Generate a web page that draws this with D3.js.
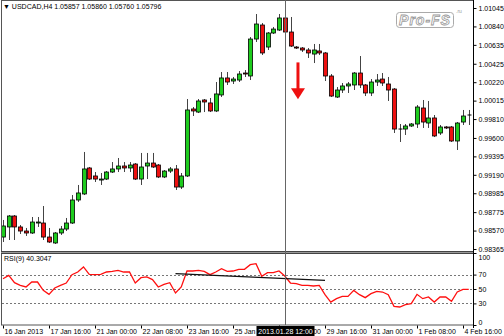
<!DOCTYPE html>
<html>
<head>
<meta charset="utf-8">
<script src="https://cdn.jsdelivr.net/npm/d3@7/dist/d3.min.js"></script>
<style>
  body { margin: 0; background: #fff; }
  svg { display: block; font-family: "Liberation Sans", Arial, sans-serif; }
  .axis text { font-size: 7px; fill: #000; }
  .axis line { stroke: #000; }
</style>
</head>
<body>
<div id="main"></div>
<script>
// USDCAD H4 candles, 16 Jan 08:00 .. 4 Feb 20:00
const open  = [0.98498,0.98610,0.98732,0.98610,0.98565,0.98543,0.98654,0.98654,0.98498,0.98432,
               0.98543,0.98587,0.98654,0.98910,0.98977,0.99266,0.99177,0.99138,0.99143,0.99221,
               0.99255,0.99288,0.99266,0.99310,0.99143,0.99288,0.99321,0.99299,0.99166,0.99232,
               0.99255,0.99054,0.99177,0.99922,0.99888,1.00022,0.99989,0.99900,1.00078,1.00267,
               1.00233,1.00244,1.00322,1.00289,1.00700,1.00856,1.00611,1.00767,1.00800,1.00934,
               1.00778,1.00611,1.00600,1.00578,1.00533,1.00567,1.00545,1.00289,1.00055,1.00133,
               1.00178,1.00189,1.00322,1.00189,1.00100,1.00222,1.00255,1.00200,1.00144,0.99699,
               0.99699,0.99733,0.99755,0.99933,0.99766,0.99822,0.99655,0.99722,0.99722,0.99566,
               0.99777,0.99855];
const high  = [0.98688,0.98743,0.98743,0.98632,0.98599,0.98721,0.98721,0.98843,0.98599,0.98554,
               0.98621,0.98710,0.98965,0.99077,0.99444,0.99277,0.99221,0.99210,0.99232,0.99332,
               0.99377,0.99332,0.99332,0.99321,0.99433,0.99433,0.99433,0.99310,0.99243,0.99277,
               0.99299,0.99210,1.00033,0.99944,1.00033,1.00033,1.00044,1.00222,1.00333,1.00333,
               1.00278,1.00344,1.00355,1.00722,1.00978,1.00878,1.00778,1.00834,1.00978,1.00945,
               1.00945,1.00622,1.00611,1.00600,1.00645,1.00645,1.00556,1.00311,1.00166,1.00211,
               1.00222,1.00333,1.00511,1.00200,1.00255,1.00311,1.00322,1.00278,1.00155,0.99755,
               0.99755,0.99766,0.99966,1.00022,1.00011,0.99855,0.99744,0.99733,0.99733,0.99777,
               0.99911,0.99911];
const low   = [0.98443,0.98465,0.98465,0.98532,0.98510,0.98532,0.98610,0.98465,0.98432,0.98421,
               0.98521,0.98565,0.98643,0.98888,0.98965,0.99132,0.99110,0.99077,0.99132,0.99210,
               0.99221,0.99221,0.99221,0.99132,0.99077,0.99143,0.99266,0.99154,0.99154,0.99210,
               0.99021,0.99032,0.99166,0.99844,0.99877,0.99888,0.99888,0.99888,1.00055,1.00189,
               1.00200,1.00222,1.00278,1.00244,1.00667,1.00522,1.00578,1.00756,1.00789,1.00767,
               1.00611,1.00589,1.00556,1.00489,1.00433,1.00522,1.00233,1.00055,1.00044,1.00100,
               1.00100,1.00133,1.00155,1.00066,1.00066,1.00178,1.00178,1.00011,0.99655,0.99555,
               0.99633,0.99722,0.99711,0.99711,0.99711,0.99610,0.99633,0.99699,0.99555,0.99466,
               0.99744,0.99744];
const close = [0.98621,0.98732,0.98610,0.98565,0.98543,0.98665,0.98665,0.98498,0.98443,0.98543,
               0.98587,0.98654,0.98910,0.98988,0.99255,0.99143,0.99143,0.99143,0.99221,0.99255,
               0.99288,0.99266,0.99299,0.99143,0.99277,0.99321,0.99277,0.99166,0.99232,0.99255,
               0.99054,0.99177,0.99911,0.99900,1.00011,1.00000,0.99900,1.00089,1.00267,1.00222,
               1.00255,1.00311,1.00311,1.00700,1.00867,1.00545,1.00767,1.00811,1.00934,1.00778,
               1.00622,1.00600,1.00578,1.00545,1.00578,1.00545,1.00289,1.00066,1.00133,1.00178,
               1.00200,1.00322,1.00189,1.00100,1.00222,1.00244,1.00211,1.00133,0.99699,0.99699,
               0.99733,0.99755,0.99944,0.99777,0.99822,0.99622,0.99722,0.99711,0.99566,0.99766,
               0.99844,0.99855];

const rsi = [64.3,69.0,58.8,55.1,52.8,59.7,59.7,48.1,42.6,51.4,
             55.1,58.3,69.9,73.6,80.6,70.4,69.9,70.4,73.6,74.5,
             75.9,73.6,73.6,58.3,65.7,66.7,63.0,52.8,56.5,58.8,
             44.4,52.8,75.0,75.0,75.9,74.5,69.9,73.6,78.2,74.5,
             75.0,77.3,77.3,83.8,85.2,67.6,72.7,72.7,75.0,68.1,
             58.3,57.4,55.1,55.1,54.2,55.1,42.1,31.9,36.6,39.8,
             39.8,48.1,42.1,38.0,43.5,46.8,45.8,42.1,25.9,25.0,
             28.2,29.6,42.6,36.6,38.9,31.9,38.9,38.9,32.9,45.8,
             49.5,49.5];

// hand drawn objects
const trendBars = [30, 56];
const trendRsi  = [71.3, 62.1];
const arrowBar = 51.3;
const arrowPrices = [1.00440, 1.00030];
const cursorBar = 49;
const cursorLabel = "2013.01.28 12:00";

const priceTicks = [1.01045,1.00840,1.00635,1.00425,1.00220,1.00015,0.99810,0.99600,
                    0.99395,0.99190,0.98985,0.98775,0.98570,0.98365];
const rsiTicks = [100, 70, 50, 30, 0];
const rsiLevels = [70, 50, 30];
const timeBars = [0, 8, 16, 24, 32, 40, 48, 56, 64, 72, 80];
const timeLabels = ["16 Jan 2013","17 Jan 16:00","21 Jan 00:00","22 Jan 08:00","23 Jan 16:00",
                    "25 Jan 00:00","28 Jan 08:00","29 Jan 16:00","31 Jan 00:00","1 Feb 08:00","4 Feb 16:00"];

const W = 504, H = 336;
const plot = {left: 1, right: 473, top: 0, priceBottom: 251, rsiTop: 253, bottom: 325};

const svg = d3.select("#main").append("svg")
    .attr("width", W).attr("height", H);
svg.append("rect").attr("width", W).attr("height", H).attr("fill", "#fff");

const x = d3.scaleLinear().domain([0, 81]).range([3, 468.75]);
const yPrice = d3.scaleLinear().domain([0.98365, 1.01045]).range([249, 8]);
const yRsi = d3.scaleLinear().domain([0, 100]).range([325, 253]);

const candles = d3.range(open.length).map(i => ({
  i: i, o: open[i], h: high[i], l: low[i], c: close[i]
}));

// rsi level lines
svg.append("g").selectAll("line")
  .data(rsiLevels).enter().append("line")
  .attr("x1", plot.left + 1).attr("x2", plot.right)
  .attr("y1", d => Math.round(yRsi(d)) + 0.5).attr("y2", d => Math.round(yRsi(d)) + 0.5)
  .attr("stroke", "#777").attr("stroke-dasharray", "2,2");

// candles
const cg = svg.append("g");
cg.selectAll("line.wick")
  .data(candles).enter().append("line")
  .attr("class", "wick")
  .attr("x1", d => Math.round(x(d.i)) + 0.5).attr("x2", d => Math.round(x(d.i)) + 0.5)
  .attr("y1", d => yPrice(d.h)).attr("y2", d => yPrice(d.l))
  .attr("stroke", "#444").attr("stroke-width", 1);

cg.selectAll("rect.body")
  .data(candles.filter(d => d.o !== d.c)).enter().append("rect")
  .attr("class", "body")
  .attr("x", d => Math.round(x(d.i)) - 1.5)
  .attr("width", 4)
  .attr("y", d => yPrice(Math.max(d.o, d.c)))
  .attr("height", d => Math.max(1, Math.abs(yPrice(d.o) - yPrice(d.c))))
  .attr("fill", d => d.c > d.o ? "#1ecc1e" : "#ee1010")
  .attr("stroke", "#000").attr("stroke-width", 0.8);

cg.selectAll("line.doji")
  .data(candles.filter(d => d.o === d.c)).enter().append("line")
  .attr("class", "doji")
  .attr("x1", d => Math.round(x(d.i)) - 1.5).attr("x2", d => Math.round(x(d.i)) + 2.5)
  .attr("y1", d => yPrice(d.c)).attr("y2", d => yPrice(d.c))
  .attr("stroke", "#000").attr("stroke-width", 1);

// red arrow
const ax = x(arrowBar);
svg.append("line")
  .attr("x1", ax).attr("x2", ax)
  .attr("y1", yPrice(arrowPrices[0])).attr("y2", yPrice(arrowPrices[1]) - 8)
  .attr("stroke", "#ee1010").attr("stroke-width", 3);
svg.append("path")
  .attr("d", `M${ax - 7},${yPrice(arrowPrices[1]) - 11} L${ax + 7},${yPrice(arrowPrices[1]) - 11} L${ax},${yPrice(arrowPrices[1])} Z`)
  .attr("fill", "#ee1010");

// rsi line
const rsiLine = d3.line().x((d, i) => x(i)).y(d => yRsi(d));
svg.append("path")
  .datum(rsi)
  .attr("d", rsiLine)
  .attr("fill", "none").attr("stroke", "#ff1010").attr("stroke-width", 1.3);

// trendline on rsi
svg.append("line")
  .attr("x1", x(trendBars[0])).attr("x2", x(trendBars[1]))
  .attr("y1", yRsi(trendRsi[0])).attr("y2", yRsi(trendRsi[1]))
  .attr("stroke", "#111").attr("stroke-width", 1.2);

// frame
svg.append("rect")
  .attr("x", plot.left + 0.5).attr("y", 0.5)
  .attr("width", plot.right - plot.left).attr("height", plot.bottom - 0.5)
  .attr("fill", "none").attr("stroke", "#555");
svg.append("rect")
  .attr("x", plot.left).attr("y", plot.priceBottom)
  .attr("width", plot.right - plot.left + 0.5).attr("height", plot.rsiTop - plot.priceBottom)
  .attr("fill", "#999");
svg.append("line")
  .attr("x1", plot.left).attr("x2", plot.right)
  .attr("y1", plot.priceBottom + 0.5).attr("y2", plot.priceBottom + 0.5)
  .attr("stroke", "#444");
svg.append("line")
  .attr("x1", plot.left).attr("x2", plot.right)
  .attr("y1", plot.rsiTop + 0.5).attr("y2", plot.rsiTop + 0.5)
  .attr("stroke", "#444");

// crosshair
svg.append("line")
  .attr("x1", Math.round(x(cursorBar)) + 0.5).attr("x2", Math.round(x(cursorBar)) + 0.5)
  .attr("y1", 0).attr("y2", plot.bottom)
  .attr("stroke", "#666").attr("stroke-width", 1);

// axes
const priceAxis = d3.axisRight(yPrice).tickValues(priceTicks)
  .tickFormat(d3.format(".5f")).tickSize(3).tickPadding(2);
svg.append("g").attr("class", "axis")
  .attr("transform", `translate(${plot.right + 0.5},0)`)
  .call(priceAxis)
  .call(g => g.select(".domain").remove());

const rsiAxis = d3.axisRight(yRsi).tickValues(rsiTicks).tickSize(3).tickPadding(2);
svg.append("g").attr("class", "axis")
  .attr("transform", `translate(${plot.right + 0.5},0)`)
  .call(rsiAxis)
  .call(g => g.select(".domain").remove())
  .call(g => g.selectAll(".tick text")
    .attr("dy", d => d === 100 ? "0.9em" : d === 0 ? "-0.1em" : "0.32em"));

const timeAxis = d3.axisBottom(x).tickValues(timeBars)
  .tickFormat((d, i) => timeLabels[i]).tickSize(3).tickPadding(1);
svg.append("g").attr("class", "axis")
  .attr("transform", `translate(0,${plot.bottom + 0.5})`)
  .call(timeAxis)
  .call(g => g.select(".domain").remove())
  .call(g => g.selectAll(".tick text").attr("text-anchor", "start").attr("dx", 1));

svg.append("line")
  .attr("x1", plot.right + 0.5).attr("x2", plot.right + 0.5)
  .attr("y1", 0).attr("y2", plot.bottom + 3)
  .attr("stroke", "#000");

// cursor time label
const cx = Math.round(x(cursorBar)) + 0.5;
svg.append("rect")
  .attr("x", cx - 29).attr("y", plot.bottom + 1)
  .attr("width", 58).attr("height", 10)
  .attr("fill", "#000");
svg.append("text")
  .attr("x", cx).attr("y", plot.bottom + 9)
  .attr("text-anchor", "middle").attr("fill", "#fff")
  .attr("font-size", 7)
  .text(cursorLabel);

// titles
svg.append("text")
  .attr("x", 3).attr("y", 8.5).attr("font-size", 7)
  .text("\u25BC USDCAD,H4  1.05857 1.05860 1.05760 1.05796");
svg.append("text")
  .attr("x", 4).attr("y", 260.5).attr("font-size", 7)
  .text("RSI(9) 40.3047");

// watermark
const logo = svg.append("g");
logo.append("rect")
  .attr("x", 396.5).attr("y", 12.5).attr("width", 57).attr("height", 15).attr("rx", 3)
  .attr("fill", "#fff").attr("stroke", "#aaa");
logo.append("text")
  .attr("x", 425).attr("y", 25).attr("text-anchor", "middle")
  .attr("font-size", 14).attr("font-weight", "bold").attr("font-style", "italic")
  .attr("fill", "#fff").attr("stroke", "#999").attr("stroke-width", 0.8)
  .attr("letter-spacing", 1)
  .text("Pro-FS");
logo.append("text")
  .attr("x", 456).attr("y", 13).attr("font-size", 5).attr("fill", "#999")
  .text(".ru");
</script>
</body>
</html>
